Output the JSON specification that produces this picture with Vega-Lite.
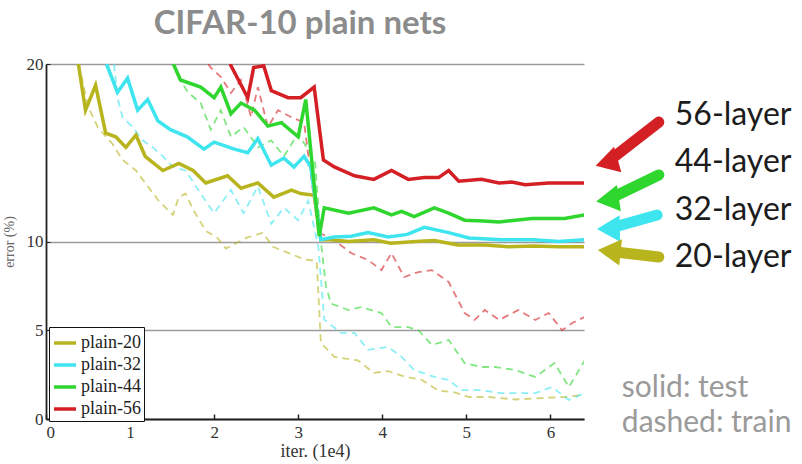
{
"$schema": "https://vega.github.io/schema/vega-lite/v6.json",
"width": 538, "height": 355,
"autosize": "none",
"padding": {"left": 46, "top": 64, "right": 218, "bottom": 45},
"background": "white",
"config": {"view": {"stroke": null}, "font": "Lato"},
"title": {"text": "CIFAR-10 plain nets", "font": "Lato", "fontSize": 33, "fontWeight": "bold", "color": "#8c8c8c", "anchor": "middle", "dx": -15, "offset": -12, "baseline": "alphabetic"},
"datasets": {
"curves": [
{"net":"plain-20","set":"test","iter":0.385,"err":20.0},{"net":"plain-20","set":"test","iter":0.47,"err":17.4},{"net":"plain-20","set":"test","iter":0.59,"err":18.8},{"net":"plain-20","set":"test","iter":0.71,"err":16.1},{"net":"plain-20","set":"test","iter":0.83,"err":15.9},{"net":"plain-20","set":"test","iter":0.95,"err":15.3},{"net":"plain-20","set":"test","iter":1.07,"err":16.0},{"net":"plain-20","set":"test","iter":1.18,"err":14.8},{"net":"plain-20","set":"test","iter":1.39,"err":14.0},{"net":"plain-20","set":"test","iter":1.58,"err":14.4},{"net":"plain-20","set":"test","iter":1.75,"err":14.0},{"net":"plain-20","set":"test","iter":1.90,"err":13.3},{"net":"plain-20","set":"test","iter":2.16,"err":13.7},{"net":"plain-20","set":"test","iter":2.32,"err":13.0},{"net":"plain-20","set":"test","iter":2.52,"err":13.3},{"net":"plain-20","set":"test","iter":2.71,"err":12.5},{"net":"plain-20","set":"test","iter":2.92,"err":12.9},{"net":"plain-20","set":"test","iter":3.03,"err":12.7},{"net":"plain-20","set":"test","iter":3.19,"err":12.6},{"net":"plain-20","set":"test","iter":3.27,"err":10.1},{"net":"plain-20","set":"test","iter":3.39,"err":10.1},{"net":"plain-20","set":"test","iter":3.6,"err":10.0},{"net":"plain-20","set":"test","iter":3.9,"err":10.1},{"net":"plain-20","set":"test","iter":4.1,"err":9.9},{"net":"plain-20","set":"test","iter":4.4,"err":10.0},{"net":"plain-20","set":"test","iter":4.62,"err":10.05},{"net":"plain-20","set":"test","iter":4.9,"err":9.8},{"net":"plain-20","set":"test","iter":5.22,"err":9.8},{"net":"plain-20","set":"test","iter":5.5,"err":9.7},{"net":"plain-20","set":"test","iter":5.8,"err":9.75},{"net":"plain-20","set":"test","iter":6.1,"err":9.7},{"net":"plain-20","set":"test","iter":6.41,"err":9.7},
{"net":"plain-32","set":"test","iter":0.72,"err":20.0},{"net":"plain-32","set":"test","iter":0.85,"err":18.4},{"net":"plain-32","set":"test","iter":0.97,"err":19.2},{"net":"plain-32","set":"test","iter":1.09,"err":17.4},{"net":"plain-32","set":"test","iter":1.21,"err":18.0},{"net":"plain-32","set":"test","iter":1.33,"err":16.8},{"net":"plain-32","set":"test","iter":1.48,"err":16.3},{"net":"plain-32","set":"test","iter":1.68,"err":15.9},{"net":"plain-32","set":"test","iter":1.88,"err":15.2},{"net":"plain-32","set":"test","iter":2.0,"err":15.6},{"net":"plain-32","set":"test","iter":2.24,"err":15.2},{"net":"plain-32","set":"test","iter":2.40,"err":15.0},{"net":"plain-32","set":"test","iter":2.52,"err":15.8},{"net":"plain-32","set":"test","iter":2.68,"err":14.3},{"net":"plain-32","set":"test","iter":2.83,"err":14.7},{"net":"plain-32","set":"test","iter":2.95,"err":14.2},{"net":"plain-32","set":"test","iter":3.07,"err":14.8},{"net":"plain-32","set":"test","iter":3.15,"err":14.2},{"net":"plain-32","set":"test","iter":3.27,"err":10.1},{"net":"plain-32","set":"test","iter":3.43,"err":10.25},{"net":"plain-32","set":"test","iter":3.63,"err":10.3},{"net":"plain-32","set":"test","iter":3.83,"err":10.5},{"net":"plain-32","set":"test","iter":4.07,"err":10.25},{"net":"plain-32","set":"test","iter":4.30,"err":10.4},{"net":"plain-32","set":"test","iter":4.50,"err":10.8},{"net":"plain-32","set":"test","iter":4.79,"err":10.5},{"net":"plain-32","set":"test","iter":5.03,"err":10.2},{"net":"plain-32","set":"test","iter":5.42,"err":10.1},{"net":"plain-32","set":"test","iter":5.8,"err":10.1},{"net":"plain-32","set":"test","iter":6.1,"err":10.0},{"net":"plain-32","set":"test","iter":6.41,"err":10.1},
{"net":"plain-44","set":"test","iter":1.515,"err":20.0},{"net":"plain-44","set":"test","iter":1.60,"err":19.1},{"net":"plain-44","set":"test","iter":1.84,"err":18.7},{"net":"plain-44","set":"test","iter":2.0,"err":18.1},{"net":"plain-44","set":"test","iter":2.08,"err":18.7},{"net":"plain-44","set":"test","iter":2.2,"err":17.2},{"net":"plain-44","set":"test","iter":2.32,"err":17.8},{"net":"plain-44","set":"test","iter":2.48,"err":17.4},{"net":"plain-44","set":"test","iter":2.64,"err":16.5},{"net":"plain-44","set":"test","iter":2.80,"err":16.7},{"net":"plain-44","set":"test","iter":3.0,"err":15.9},{"net":"plain-44","set":"test","iter":3.09,"err":18.0},{"net":"plain-44","set":"test","iter":3.25,"err":10.3},{"net":"plain-44","set":"test","iter":3.31,"err":11.9},{"net":"plain-44","set":"test","iter":3.60,"err":11.6},{"net":"plain-44","set":"test","iter":3.90,"err":11.9},{"net":"plain-44","set":"test","iter":4.11,"err":11.5},{"net":"plain-44","set":"test","iter":4.23,"err":11.7},{"net":"plain-44","set":"test","iter":4.38,"err":11.4},{"net":"plain-44","set":"test","iter":4.62,"err":11.9},{"net":"plain-44","set":"test","iter":4.79,"err":11.6},{"net":"plain-44","set":"test","iter":4.98,"err":11.2},{"net":"plain-44","set":"test","iter":5.2,"err":11.15},{"net":"plain-44","set":"test","iter":5.39,"err":11.1},{"net":"plain-44","set":"test","iter":5.78,"err":11.3},{"net":"plain-44","set":"test","iter":6.17,"err":11.3},{"net":"plain-44","set":"test","iter":6.41,"err":11.5},
{"net":"plain-56","set":"test","iter":2.19,"err":20.0},{"net":"plain-56","set":"test","iter":2.40,"err":18.1},{"net":"plain-56","set":"test","iter":2.47,"err":19.8},{"net":"plain-56","set":"test","iter":2.59,"err":19.9},{"net":"plain-56","set":"test","iter":2.68,"err":18.5},{"net":"plain-56","set":"test","iter":2.88,"err":18.1},{"net":"plain-56","set":"test","iter":3.03,"err":18.1},{"net":"plain-56","set":"test","iter":3.19,"err":18.7},{"net":"plain-56","set":"test","iter":3.30,"err":14.6},{"net":"plain-56","set":"test","iter":3.43,"err":14.2},{"net":"plain-56","set":"test","iter":3.67,"err":13.7},{"net":"plain-56","set":"test","iter":3.90,"err":13.5},{"net":"plain-56","set":"test","iter":4.11,"err":14.0},{"net":"plain-56","set":"test","iter":4.31,"err":13.5},{"net":"plain-56","set":"test","iter":4.50,"err":13.6},{"net":"plain-56","set":"test","iter":4.67,"err":13.6},{"net":"plain-56","set":"test","iter":4.79,"err":14.0},{"net":"plain-56","set":"test","iter":4.91,"err":13.4},{"net":"plain-56","set":"test","iter":5.18,"err":13.5},{"net":"plain-56","set":"test","iter":5.39,"err":13.3},{"net":"plain-56","set":"test","iter":5.54,"err":13.35},{"net":"plain-56","set":"test","iter":5.70,"err":13.2},{"net":"plain-56","set":"test","iter":5.98,"err":13.3},{"net":"plain-56","set":"test","iter":6.17,"err":13.3},{"net":"plain-56","set":"test","iter":6.41,"err":13.3},
{"net":"plain-20","set":"train","iter":0.39,"err":20.0},{"net":"plain-20","set":"train","iter":0.50,"err":17.6},{"net":"plain-20","set":"train","iter":0.62,"err":16.4},{"net":"plain-20","set":"train","iter":0.79,"err":15.5},{"net":"plain-20","set":"train","iter":0.91,"err":14.6},{"net":"plain-20","set":"train","iter":1.07,"err":14.0},{"net":"plain-20","set":"train","iter":1.18,"err":13.3},{"net":"plain-20","set":"train","iter":1.34,"err":12.3},{"net":"plain-20","set":"train","iter":1.51,"err":11.5},{"net":"plain-20","set":"train","iter":1.58,"err":12.5},{"net":"plain-20","set":"train","iter":1.66,"err":12.7},{"net":"plain-20","set":"train","iter":1.75,"err":11.8},{"net":"plain-20","set":"train","iter":1.90,"err":10.6},{"net":"plain-20","set":"train","iter":2.04,"err":10.2},{"net":"plain-20","set":"train","iter":2.14,"err":9.6},{"net":"plain-20","set":"train","iter":2.38,"err":10.2},{"net":"plain-20","set":"train","iter":2.58,"err":10.5},{"net":"plain-20","set":"train","iter":2.70,"err":9.7},{"net":"plain-20","set":"train","iter":2.86,"err":9.4},{"net":"plain-20","set":"train","iter":3.07,"err":9.0},{"net":"plain-20","set":"train","iter":3.22,"err":8.9},{"net":"plain-20","set":"train","iter":3.27,"err":4.3},{"net":"plain-20","set":"train","iter":3.43,"err":3.5},{"net":"plain-20","set":"train","iter":3.71,"err":3.3},{"net":"plain-20","set":"train","iter":3.90,"err":2.6},{"net":"plain-20","set":"train","iter":4.07,"err":2.7},{"net":"plain-20","set":"train","iter":4.26,"err":2.4},{"net":"plain-20","set":"train","iter":4.47,"err":2.2},{"net":"plain-20","set":"train","iter":4.67,"err":1.6},{"net":"plain-20","set":"train","iter":4.86,"err":1.5},{"net":"plain-20","set":"train","iter":5.03,"err":1.24},{"net":"plain-20","set":"train","iter":5.27,"err":1.24},{"net":"plain-20","set":"train","iter":5.58,"err":1.1},{"net":"plain-20","set":"train","iter":5.90,"err":1.18},{"net":"plain-20","set":"train","iter":6.17,"err":1.24},{"net":"plain-20","set":"train","iter":6.38,"err":1.35},
{"net":"plain-32","set":"train","iter":0.81,"err":20.0},{"net":"plain-32","set":"train","iter":0.85,"err":18.1},{"net":"plain-32","set":"train","iter":0.91,"err":17.0},{"net":"plain-32","set":"train","iter":1.03,"err":16.45},{"net":"plain-32","set":"train","iter":1.15,"err":15.7},{"net":"plain-32","set":"train","iter":1.27,"err":15.3},{"net":"plain-32","set":"train","iter":1.39,"err":14.8},{"net":"plain-32","set":"train","iter":1.51,"err":14.2},{"net":"plain-32","set":"train","iter":1.66,"err":14.0},{"net":"plain-32","set":"train","iter":1.84,"err":12.7},{"net":"plain-32","set":"train","iter":2.0,"err":11.6},{"net":"plain-32","set":"train","iter":2.2,"err":12.9},{"net":"plain-32","set":"train","iter":2.35,"err":11.6},{"net":"plain-32","set":"train","iter":2.52,"err":13.1},{"net":"plain-32","set":"train","iter":2.68,"err":11.0},{"net":"plain-32","set":"train","iter":2.83,"err":11.9},{"net":"plain-32","set":"train","iter":3.0,"err":11.2},{"net":"plain-32","set":"train","iter":3.12,"err":12.3},{"net":"plain-32","set":"train","iter":3.24,"err":9.7},{"net":"plain-32","set":"train","iter":3.31,"err":5.6},{"net":"plain-32","set":"train","iter":3.51,"err":4.85},{"net":"plain-32","set":"train","iter":3.67,"err":4.85},{"net":"plain-32","set":"train","iter":3.83,"err":3.9},{"net":"plain-32","set":"train","iter":4.07,"err":4.06},{"net":"plain-32","set":"train","iter":4.23,"err":3.5},{"net":"plain-32","set":"train","iter":4.38,"err":2.76},{"net":"plain-32","set":"train","iter":4.62,"err":2.37},{"net":"plain-32","set":"train","iter":4.79,"err":2.2},{"net":"plain-32","set":"train","iter":4.94,"err":1.63},{"net":"plain-32","set":"train","iter":5.15,"err":1.63},{"net":"plain-32","set":"train","iter":5.42,"err":1.46},{"net":"plain-32","set":"train","iter":5.82,"err":1.46},{"net":"plain-32","set":"train","iter":6.02,"err":1.8},{"net":"plain-32","set":"train","iter":6.22,"err":1.07},{"net":"plain-32","set":"train","iter":6.41,"err":1.46},
{"net":"plain-44","set":"train","iter":1.52,"err":20.0},{"net":"plain-44","set":"train","iter":1.57,"err":19.3},{"net":"plain-44","set":"train","iter":1.69,"err":18.4},{"net":"plain-44","set":"train","iter":1.84,"err":17.8},{"net":"plain-44","set":"train","iter":1.96,"err":16.3},{"net":"plain-44","set":"train","iter":2.08,"err":17.4},{"net":"plain-44","set":"train","iter":2.2,"err":15.9},{"net":"plain-44","set":"train","iter":2.35,"err":16.45},{"net":"plain-44","set":"train","iter":2.52,"err":15.3},{"net":"plain-44","set":"train","iter":2.68,"err":15.7},{"net":"plain-44","set":"train","iter":2.83,"err":14.8},{"net":"plain-44","set":"train","iter":3.0,"err":16.1},{"net":"plain-44","set":"train","iter":3.2,"err":14.5},{"net":"plain-44","set":"train","iter":3.27,"err":10.0},{"net":"plain-44","set":"train","iter":3.33,"err":7.5},{"net":"plain-44","set":"train","iter":3.39,"err":6.5},{"net":"plain-44","set":"train","iter":3.60,"err":6.14},{"net":"plain-44","set":"train","iter":3.75,"err":6.3},{"net":"plain-44","set":"train","iter":3.99,"err":5.97},{"net":"plain-44","set":"train","iter":4.11,"err":5.18},{"net":"plain-44","set":"train","iter":4.31,"err":5.18},{"net":"plain-44","set":"train","iter":4.43,"err":5.0},{"net":"plain-44","set":"train","iter":4.59,"err":4.17},{"net":"plain-44","set":"train","iter":4.79,"err":4.45},{"net":"plain-44","set":"train","iter":4.98,"err":3.15},{"net":"plain-44","set":"train","iter":5.18,"err":2.93},{"net":"plain-44","set":"train","iter":5.34,"err":2.93},{"net":"plain-44","set":"train","iter":5.58,"err":2.76},{"net":"plain-44","set":"train","iter":5.82,"err":2.37},{"net":"plain-44","set":"train","iter":6.05,"err":3.15},{"net":"plain-44","set":"train","iter":6.22,"err":1.8},{"net":"plain-44","set":"train","iter":6.41,"err":3.3},
{"net":"plain-56","set":"train","iter":1.93,"err":20.0},{"net":"plain-56","set":"train","iter":1.96,"err":19.8},{"net":"plain-56","set":"train","iter":2.08,"err":19.27},{"net":"plain-56","set":"train","iter":2.2,"err":18.37},{"net":"plain-56","set":"train","iter":2.32,"err":19.1},{"net":"plain-56","set":"train","iter":2.44,"err":17.0},{"net":"plain-56","set":"train","iter":2.52,"err":18.7},{"net":"plain-56","set":"train","iter":2.64,"err":16.45},{"net":"plain-56","set":"train","iter":2.76,"err":17.4},{"net":"plain-56","set":"train","iter":2.92,"err":17.0},{"net":"plain-56","set":"train","iter":3.07,"err":16.7},{"net":"plain-56","set":"train","iter":3.24,"err":10.5},{"net":"plain-56","set":"train","iter":3.39,"err":10.2},{"net":"plain-56","set":"train","iter":3.63,"err":9.35},{"net":"plain-56","set":"train","iter":3.83,"err":8.96},{"net":"plain-56","set":"train","iter":3.99,"err":8.39},{"net":"plain-56","set":"train","iter":4.11,"err":9.35},{"net":"plain-56","set":"train","iter":4.26,"err":8.0},{"net":"plain-56","set":"train","iter":4.43,"err":8.28},{"net":"plain-56","set":"train","iter":4.59,"err":8.39},{"net":"plain-56","set":"train","iter":4.79,"err":7.72},{"net":"plain-56","set":"train","iter":4.98,"err":5.97},{"net":"plain-56","set":"train","iter":5.10,"err":5.58},{"net":"plain-56","set":"train","iter":5.22,"err":6.14},{"net":"plain-56","set":"train","iter":5.39,"err":5.58},{"net":"plain-56","set":"train","iter":5.62,"err":6.14},{"net":"plain-56","set":"train","iter":5.82,"err":5.58},{"net":"plain-56","set":"train","iter":5.98,"err":5.97},{"net":"plain-56","set":"train","iter":6.14,"err":5.0},{"net":"plain-56","set":"train","iter":6.26,"err":5.41},{"net":"plain-56","set":"train","iter":6.41,"err":5.75}
],
"arrows": [
{"net":"plain-56","x":7.29,"y":16.73,"x2":6.67,"y2":14.44},
{"net":"plain-44","x":7.29,"y":13.75,"x2":6.68,"y2":12.35},
{"net":"plain-32","x":7.27,"y":11.49,"x2":6.69,"y2":10.72},
{"net":"plain-20","x":7.29,"y":9.13,"x2":6.70,"y2":9.45}
],
"notes": [
{"label":"56-layer","tone":"dark","x":7.48,"y":16.56},
{"label":"44-layer","tone":"dark","x":7.48,"y":13.92},
{"label":"32-layer","tone":"dark","x":7.48,"y":11.21},
{"label":"20-layer","tone":"dark","x":7.48,"y":8.56},
{"label":"solid: test","tone":"light","x":6.85,"y":1.24},
{"label":"dashed: train","tone":"light","x":6.85,"y":-0.73}
]
},
"layer": [
{"data": {"name": "curves"}, "transform": [{"filter": "datum.set === 'train'"}],
 "mark": {"type": "line", "clip": true, "strokeWidth": 1.8, "strokeDash": [7, 5], "opacity": 0.6},
 "encoding": {
  "x": {"field": "iter", "type": "quantitative", "title": "iter. (1e4)", "scale": {"domain": [0, 6.4], "nice": false, "zero": false},
        "axis": {"values": [0,1,2,3,4,5,6], "format": "d", "grid": false, "domainColor": "#222", "domainWidth": 1.8, "tickColor": "#222", "tickSize": -5, "tickWidth": 1.5, "labelPadding": 10, "labelFont": "Liberation Serif", "labelFontSize": 17, "labelColor": "#333", "titleFont": "Liberation Serif", "titleFontSize": 18, "titleFontWeight": "normal", "titleColor": "#333", "titlePadding": 2}},
  "y": {"field": "err", "type": "quantitative", "title": "error (%)", "scale": {"domain": [0, 20], "nice": false},
        "axis": {"values": [0,5,10,20], "grid": true, "gridColor": "#9a9a9a", "gridWidth": 1.5, "domainColor": "#222", "domainWidth": 1.8, "tickColor": "#222", "tickSize": -4, "labelPadding": 7, "labelFont": "Liberation Serif", "labelFontSize": 17, "labelColor": "#333", "titleFont": "Liberation Serif", "titleFontSize": 14, "titleFontWeight": "normal", "titleColor": "#666", "titlePadding": 10}},
  "color": {"field": "net", "type": "nominal", "scale": {"domain": ["plain-20","plain-32","plain-44","plain-56"], "range": ["#b8b41e","#3ee4ee","#2ed62e","#d42024"]},
            "legend": {"title": null, "orient": "none", "legendX": 3, "legendY": 263, "symbolType": "stroke", "symbolStrokeWidth": 3.5, "symbolSize": 484, "symbolDash": [], "symbolOpacity": 1, "labelFont": "Liberation Serif", "labelFontSize": 18, "labelColor": "#222", "strokeColor": "#111", "fillColor": "white", "padding": 3, "rowPadding": 0, "labelOffset": 3}}
 }},
{"data": {"name": "curves"}, "transform": [{"filter": "datum.set === 'test'"}],
 "mark": {"type": "line", "clip": true, "strokeWidth": 3.5},
 "encoding": {
  "x": {"field": "iter", "type": "quantitative", "title": "iter. (1e4)"},
  "y": {"field": "err", "type": "quantitative", "title": "error (%)"},
  "color": {"field": "net", "type": "nominal"}
 }},
{"data": {"name": "arrows"},
 "mark": {"type": "rule", "strokeWidth": 11, "strokeCap": "round"},
 "encoding": {
  "x": {"field": "x", "type": "quantitative", "title": "iter. (1e4)"},
  "y": {"field": "y", "type": "quantitative", "title": "error (%)"},
  "x2": {"field": "x2"}, "y2": {"field": "y2"},
  "color": {"field": "net", "type": "nominal"}
 }},
{"data": {"name": "arrows"},
 "mark": {"type": "point", "shape": "triangle-up", "filled": true, "size": 700, "opacity": 1},
 "encoding": {
  "x": {"field": "x2", "type": "quantitative", "title": "iter. (1e4)"},
  "y": {"field": "y2", "type": "quantitative", "title": "error (%)"},
  "color": {"field": "net", "type": "nominal"},
  "angle": {"field": "net", "type": "nominal", "scale": {"domain": ["plain-20","plain-32","plain-44","plain-56"], "range": [276, 254, 244, 232]}, "legend": null}
 }},
{"data": {"name": "notes"}, "transform": [{"filter": "datum.tone === 'dark'"}],
 "mark": {"type": "text", "align": "left", "baseline": "alphabetic", "font": "Lato", "fontSize": 32, "color": "#1c1c1c"},
 "encoding": {
  "x": {"field": "x", "type": "quantitative", "title": "iter. (1e4)"},
  "y": {"field": "y", "type": "quantitative", "title": "error (%)"},
  "text": {"field": "label"}
 }},
{"data": {"name": "notes"}, "transform": [{"filter": "datum.tone === 'light'"}],
 "mark": {"type": "text", "align": "left", "baseline": "alphabetic", "font": "Lato", "fontSize": 30, "color": "#9a9a9a"},
 "encoding": {
  "x": {"field": "x", "type": "quantitative", "title": "iter. (1e4)"},
  "y": {"field": "y", "type": "quantitative", "title": "error (%)"},
  "text": {"field": "label"}
 }}
]
}
